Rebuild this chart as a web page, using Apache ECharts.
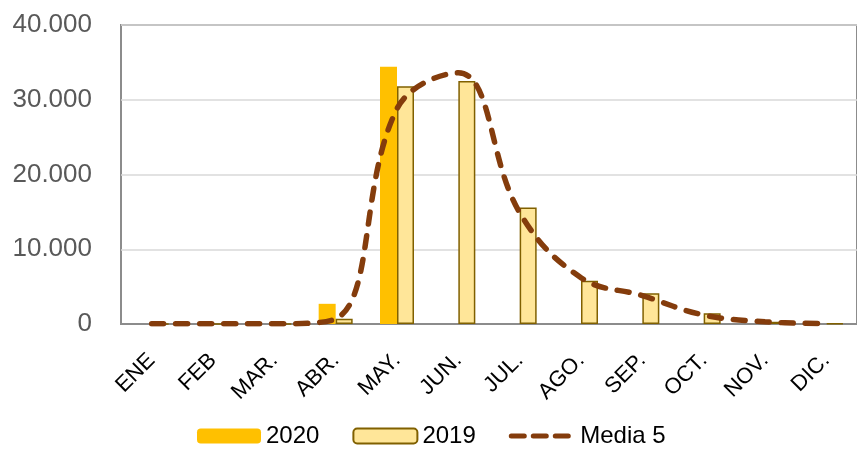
<!DOCTYPE html>
<html>
<head>
<meta charset="utf-8">
<script src="https://cdn.jsdelivr.net/npm/echarts@6/dist/echarts.min.js"></script>
<style>
html,body{margin:0;padding:0;background:#fff;}
#c{width:857px;height:451px;}
</style>
</head>
<body>
<div id="c"></div>
<script>
var categories = ['ENE','FEB','MAR.','ABR.','MAY.','JUN.','JUL.','AGO.','SEP.','OCT.','NOV.','DIC.'];
var values2020 = [0, 0, 0, 2700, 34400, 0, 0, 0, 0, 0, 0, 0];
var values2019 = [0, 0, 0, 700, 31800, 32500, 15600, 5800, 4100, 1450, 300, 100];
var valuesMedia5 = [50, 50, 30, 700, 28800, 33600, 14900, 6200, 3800, 1200, 300, 50];
var yTickValues = [0, 10000, 20000, 30000, 40000];
var yTickLabels = ['0', '10.000', '20.000', '30.000', '40.000'];

var chart = echarts.init(document.getElementById('c'));
var FONT = 'Liberation Sans';
chart.setOption({
  animation: false,
  backgroundColor: '#fff',
  textStyle: {fontFamily: FONT},
  grid: {left: 121, top: 25, right: -6, bottom: 127, show: true, borderColor: '#8c8c8c', borderWidth: 2, containLabel: false},
  legend: {
    top: 419,
    left: 192,
    orient: 'horizontal',
    itemWidth: 64,
    itemHeight: 15,
    itemGap: 33,
    textStyle: {fontFamily: FONT, fontSize: 24, color: '#000'},
    data: [
      '2020',
      '2019',
      {name: 'Media 5', itemStyle: {opacity: 0}, lineStyle: {type: [13, 9], width: 5, cap: 'round', color: '#843C0C'}}
    ]
  },
  xAxis: {
    type: 'category',
    data: categories,
    axisLine: {show: true, lineStyle: {color: '#8c8c8c', width: 2}},
    axisTick: {show: false},
    axisLabel: {rotate: 45, margin: 33, color: '#000', fontSize: 22, fontFamily: FONT, interval: 0}
  },
  yAxis: {
    type: 'value',
    min: 0,
    max: 40000,
    interval: 10000,
    axisLine: {show: false},
    axisTick: {show: false},
    splitLine: {lineStyle: {color: '#d9d9d9', width: 1.5}},
    axisLabel: {
      margin: 29,
      color: '#595959',
      fontSize: 26,
      fontFamily: FONT,
      formatter: function (v) {
        var i = yTickValues.indexOf(v);
        return i >= 0 ? yTickLabels[i] : '';
      }
    }
  },
  series: [
    {
      name: '2020', type: 'bar', data: values2020, barWidth: 17, barGap: '0%',
      itemStyle: {color: '#FFC000'}
    },
    {
      name: '2019', type: 'bar', data: values2019, barWidth: 17, barGap: '0%',
      itemStyle: {color: '#FFE699', borderColor: '#806000', borderWidth: 1.5}
    },
    {
      name: 'Media 5', type: 'line', data: valuesMedia5, smooth: 0.4, symbol: 'none',
      lineStyle: {color: '#843C0C', width: 5.5, type: [12, 12], cap: 'round'},
      itemStyle: {color: '#843C0C'},
      z: 5
    }
  ]
});
</script>
</body>
</html>
